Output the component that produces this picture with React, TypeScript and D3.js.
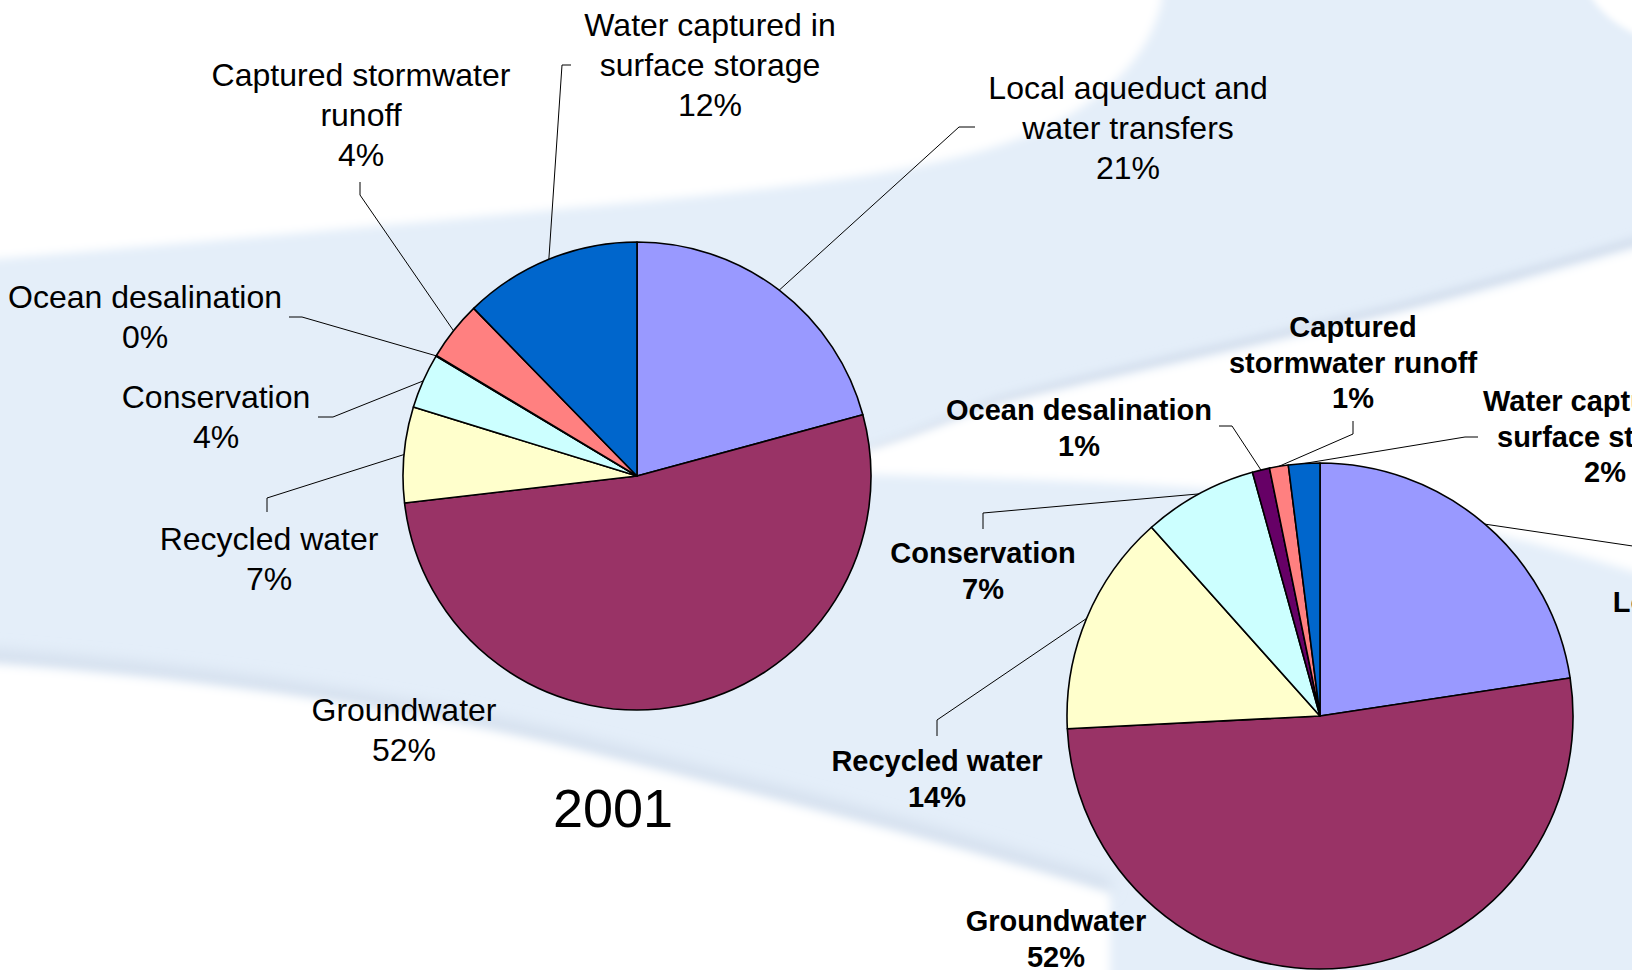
import React from "react";
import * as d3 from "d3";

// ---------- data ----------
const categories = [
  "Local aqueduct and water transfers",
  "Groundwater",
  "Recycled water",
  "Conservation",
  "Ocean desalination",
  "Captured stormwater runoff",
  "Water captured in surface storage",
];
const colors = ["#9999ff", "#993366", "#ffffcc", "#ccffff", "#660066", "#ff8080", "#0066cc"];

// 2001 shares (%)
const values2001 = [20.8, 52.4, 6.6, 3.8, 0.05, 4.1, 12.3];
// future scenario shares (%)
const valuesFuture = [22.6, 51.6, 14.2, 7.3, 1.1, 1.2, 2.0];

const linesLeft = [
  ["Local aqueduct and", "water transfers"],
  ["Groundwater"],
  ["Recycled water"],
  ["Conservation"],
  ["Ocean desalination"],
  ["Captured stormwater", "runoff"],
  ["Water captured in", "surface storage"],
];
const linesRight = [
  ["Local aqueduct and", "water transfers"],
  ["Groundwater"],
  ["Recycled water"],
  ["Conservation"],
  ["Ocean desalination"],
  ["Captured", "stormwater runoff"],
  ["Water captured in", "surface storage"],
];
const title2001 = "2001";

// ---------- layout ----------
type Lab = { cx: number; y: number; elbow?: [number, number]; end?: [number, number] };
const layoutLeft: Lab[] = [
  { cx: 1128, y: 99, elbow: [959, 127], end: [975, 127] },
  { cx: 404, y: 721 },
  { cx: 269, y: 550, elbow: [267, 498], end: [267, 512] },
  { cx: 216, y: 408, elbow: [333, 417], end: [318, 417] },
  { cx: 145, y: 308, elbow: [302, 317], end: [289, 317] },
  { cx: 361, y: 86, elbow: [360, 195], end: [360, 182] },
  { cx: 710, y: 36, elbow: [562, 65], end: [571, 65] },
];
const layoutRight: Lab[] = [
  { cx: 1749, y: 612, elbow: [1700, 556], end: [1720, 556] },
  { cx: 1056, y: 931 },
  { cx: 937, y: 771, elbow: [937, 720], end: [937, 736] },
  { cx: 983, y: 563, elbow: [983, 513], end: [983, 529] },
  { cx: 1079, y: 420, elbow: [1232, 426], end: [1219, 426] },
  { cx: 1353, y: 337, elbow: [1353, 434], end: [1353, 421] },
  { cx: 1605, y: 411, elbow: [1465, 437], end: [1478, 437] },
];

const W = 1632;
const H = 970;
const FONT = "'Liberation Sans', Arial, sans-serif";

type PieProps = {
  values: number[];
  lines: string[][];
  layout: Lab[];
  cx: number;
  cy: number;
  r: number;
  fontSize: number;
  lineH: number;
  bold: boolean;
};

function Pie({ values, lines, layout, cx, cy, r, fontSize, lineH, bold }: PieProps) {
  const data = values.map((v, i) => ({ v, i }));
  const pie = d3
    .pie<{ v: number; i: number }>()
    .sort(null)
    .value((d) => d.v)
    .startAngle(0)
    .endAngle(2 * Math.PI);
  const arcs = pie(data);
  const arc = d3.arc<d3.PieArcDatum<{ v: number; i: number }>>().innerRadius(0).outerRadius(r);
  const edge = d3.arc<d3.PieArcDatum<{ v: number; i: number }>>().innerRadius(r).outerRadius(r);
  return (
    <g>
      <g transform={`translate(${cx},${cy})`}>
        {arcs.map((a) => (
          <path
            key={a.data.i}
            d={arc(a) || ""}
            fill={colors[a.data.i]}
            stroke="#000"
            strokeWidth={1.6}
            strokeLinejoin="round"
          />
        ))}
      </g>
      {arcs.map((a) => {
        const L = layout[a.data.i];
        if (!L.elbow || !L.end) return null;
        const [sx, sy] = edge.centroid(a);
        const pts: [number, number][] = [[cx + sx, cy + sy], L.elbow, L.end];
        return (
          <path
            key={"l" + a.data.i}
            d={d3.line()(pts) || ""}
            fill="none"
            stroke="#000"
            strokeWidth={1}
          />
        );
      })}
      {arcs.map((a) => {
        const L = layout[a.data.i];
        const txt = [...lines[a.data.i], Math.round(a.data.v) + "%"];
        return (
          <text
            key={"t" + a.data.i}
            x={L.cx}
            y={L.y}
            textAnchor="middle"
            fontFamily={FONT}
            fontSize={fontSize}
            fontWeight={bold ? "bold" : "normal"}
            fill="#000"
          >
            {txt.map((s, k) => (
              <tspan key={k} x={L.cx} y={L.y + k * lineH}>
                {s}
              </tspan>
            ))}
          </text>
        );
      })}
    </g>
  );
}

function Background() {
  return (
    <g>
      <defs>
        <filter id="blur8" x="-10%" y="-10%" width="120%" height="120%">
          <feGaussianBlur stdDeviation="8" />
        </filter>
        <filter id="blur5" x="-10%" y="-10%" width="120%" height="120%">
          <feGaussianBlur stdDeviation="5" />
        </filter>
        <filter id="blur3" x="-10%" y="-10%" width="120%" height="120%">
          <feGaussianBlur stdDeviation="3" />
        </filter>
      </defs>
      <rect x={0} y={0} width={W} height={H} fill="#e4eef9" />
      {/* top-left white swoosh */}
      <path
        d="M-40,-40 L1162,-40 L1162,0 C1150,55 1110,97 1040,130 C960,165 850,180 700,196 C500,215 250,238 -40,262 Z"
        fill="#ffffff"
        filter="url(#blur5)"
      />
      {/* top-right corner white */}
      <path d="M1582,-20 C1595,10 1615,28 1660,45 L1660,-20 Z" fill="#ffffff" filter="url(#blur3)" />
      {/* shadow on the upper edge of the right white band */}
      <path
        d="M820,468 C900,445 950,420 1000,402 C1100,375 1200,355 1400,308 C1500,282 1580,258 1660,236"
        fill="none"
        stroke="#d2ddec"
        strokeWidth={10}
        filter="url(#blur5)"
      />
      {/* right white band */}
      <path
        d="M780,472 C880,452 940,425 1000,404 C1100,380 1200,360 1400,313 C1500,288 1580,264 1660,242 L1660,580 C1560,548 1460,522 1300,496 C1150,482 1000,478 780,472 Z"
        fill="#ffffff"
        filter="url(#blur5)"
      />
      {/* lower-left shadow edge */}
      <path
        d="M-20,656 C200,672 420,704 600,749 C780,794 950,837 1110,887"
        fill="none"
        stroke="#d0dbea"
        strokeWidth={12}
        filter="url(#blur8)"
      />
      {/* lower-left white region */}
      <path
        d="M-40,662 C200,678 420,710 600,756 C780,801 950,844 1110,894 L1110,1010 L-40,1010 Z"
        fill="#ffffff"
        filter="url(#blur5)"
      />
    </g>
  );
}

export default function App() {
  return (
    <svg
      width={W}
      height={H}
      viewBox={`0 0 ${W} ${H}`}
      style={{ position: "absolute", left: 0, top: 0, display: "block" }}
    >
      <Background />
      <Pie
        values={values2001}
        lines={linesLeft}
        layout={layoutLeft}
        cx={637}
        cy={476}
        r={234}
        fontSize={32}
        lineH={40}
        bold={false}
      />
      <text x={613} y={827} textAnchor="middle" fontFamily={FONT} fontSize={54} fill="#000">
        {title2001}
      </text>
      <Pie
        values={valuesFuture}
        lines={linesRight}
        layout={layoutRight}
        cx={1320}
        cy={716}
        r={253}
        fontSize={29}
        lineH={35.5}
        bold={true}
      />
    </svg>
  );
}
